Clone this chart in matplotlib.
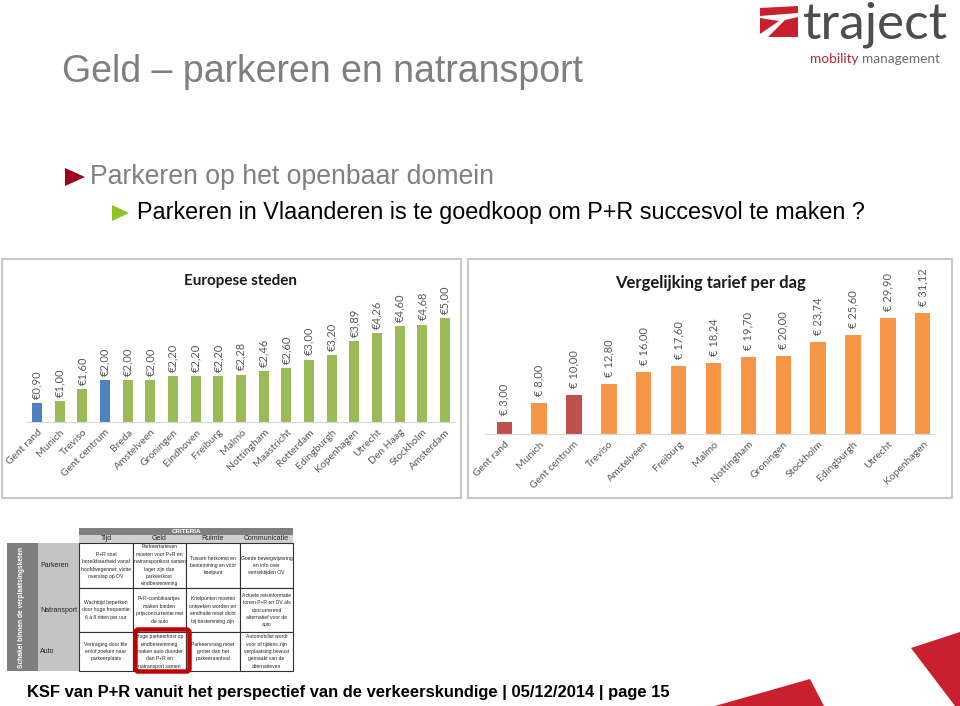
import matplotlib
matplotlib.use("Agg")
import matplotlib.pyplot as plt
from matplotlib.patches import Rectangle, Polygon, FancyBboxPatch

# data: Europese steden (uurtarief)
eu_cities = ["Gent rand", "Munich", "Treviso", "Gent centrum", "Breda", "Amstelveen",
             "Groningen", "Eindhoven", "Freiburg", "Malmö", "Nottingham", "Maastricht",
             "Rotterdam", "Edingburgh", "Kopenhagen", "Utrecht", "Den Haag", "Stockholm",
             "Amsterdam"]
eu_values = [0.90, 1.00, 1.60, 2.00, 2.00, 2.00, 2.20, 2.20, 2.20, 2.28, 2.46, 2.60,
             3.00, 3.20, 3.89, 4.26, 4.60, 4.68, 5.00]

# data: tarief per dag
day_cities = ["Gent rand", "Munich", "Gent centrum", "Treviso", "Amstelveen", "Freiburg",
              "Malmö", "Nottingham", "Groningen", "Stockholm", "Edingburgh", "Utrecht",
              "Kopenhagen"]
day_values = [3.00, 8.00, 10.00, 12.80, 16.00, 17.60, 18.24, 19.70, 20.00, 23.74, 25.60,
              29.90, 31.12]

# table
criteria = ["Tijd", "Geld", "Ruimte", "Communicatie"]
chain = ["Parkeren", "Natransport", "Auto"]
cells = [
    ["P+R snel\nbereikbaarheid vanaf\nhoofdwegennet; vlotte\noverstap op OV",
     "Parkeertarieven\nmoeten voor P+R en\nnatransportkost samen\nlager zijn dan\nparkeerkost\neindbestemming",
     "Tussen herkomst en\nbestemming en vóór\nknelpunt",
     "Goede bewegwijzering\nen info over\nvertrektijden OV"],
    ["Wachttijd beperken\ndoor hoge frequentie:\n6 à 8 ritten per uur",
     "P+R-combikaartjes\nmaken bieden\nprijsconcurrentie met\nde auto",
     "Knelpunten moeten\nontweken worden en\neindhalte moet dicht\nbij bestemming zijn",
     "Actuele reisinformatie\ntonen P+R en OV als\nconcurrerend\nalternatief voor de\nauto"],
    ["Vertraging door file\nen/of zoeken naar\nparkeerplaats",
     "Hoge parkeerkost op\neindbestemming\nmaken auto duurder\ndan P+R en\nnatransport samen",
     "Parkeervraag moet\ngroter dan het\nparkeeraanbod",
     "Automobilist wordt\nvoor of tijdens zijn\nverplaatsing bewust\ngemaakt van de\nalternatieven"],
]

W, H = 960, 706
fig = plt.figure(figsize=(W / 100, H / 100), dpi=100)
plt.rcParams['font.family'] = ['Liberation Sans', 'DejaVu Sans']

bg = fig.add_axes([0, 0, 1, 1])
bg.set_xlim(0, W)
bg.set_ylim(H, 0)
bg.axis('off')


def px_axes(x0, y0, x1, y1):
    return fig.add_axes([x0 / W, 1 - y1 / H, (x1 - x0) / W, (y1 - y0) / H])


# --- header ---
bg.text(62, 72, "Geld – parkeren en natransport", fontsize=27, color='#7f7f7f', va='center')

# logo
red = '#c8202f'
bg.add_patch(Polygon([(760, 8), (798, 6), (798, 13), (760, 16)], color=red, lw=0))
bg.add_patch(Polygon([(760, 18), (779, 21), (760, 34)], color=red, lw=0))
bg.add_patch(Polygon([(768, 37), (785, 20), (798, 17), (798, 37)], color=red, lw=0))
bg.text(803, 25, "traject", fontsize=37, color='#4d4d4d', va='center', family='Lato')
bg.text(810, 59, "mobility", fontsize=9.8, color='#b5263a', va='center', family='Lato')
bg.text(862, 59, "management", fontsize=9.8, color='#6d6d6d', va='center', family='Lato')

# bullets
bg.add_patch(Polygon([(65, 168), (65, 186), (85, 177)], color='#a0001c', lw=0))
bg.text(90, 177, "Parkeren op het openbaar domein", fontsize=19.2, color='#808080', va='center')
bg.add_patch(Polygon([(112, 205), (112, 221), (129, 213)], color='#8fc31f', lw=0))
bg.text(137, 213, "Parkeren in Vlaanderen is te goedkoop om P+R succesvol te maken ?",
        fontsize=16.8, color='#000000', va='center')

# --- chart boxes ---
bg.add_patch(Rectangle((2, 259), 459, 239, fill=False, ec='#c8c8c8', lw=1.5))
bg.add_patch(Rectangle((468, 259), 484, 239, fill=False, ec='#c8c8c8', lw=1.5))

lbl_font = ['Lato', 'DejaVu Sans']

# left chart
ax1 = px_axes(26, 270, 455, 422)
eu_colors = ['#4f81bd' if c.startswith('Gent') else '#9bbb59' for c in eu_cities]
ax1.bar(range(len(eu_values)), eu_values, width=0.44, color=eu_colors)
ax1.set_xlim(-0.49, 18.44)
ax1.set_ylim(0, 7.3)
for i, v in enumerate(eu_values):
    ax1.annotate("€" + f"{v:.2f}".replace('.', ','), (i, v), xytext=(0, 3),
                 textcoords='offset points', rotation=90, ha='center', va='bottom',
                 fontsize=8, color='#595959', family=lbl_font)
ax1.set_xticks(range(len(eu_cities)))
ax1.set_xticklabels(eu_cities, rotation=45, ha='right', va='top', rotation_mode='anchor',
                    fontsize=7.5, color='#595959', family=lbl_font)
ax1.tick_params(axis='x', length=0, pad=4)
ax1.set_yticks([])
for s in ['top', 'right', 'left']:
    ax1.spines[s].set_visible(False)
ax1.spines['bottom'].set_color('#d9d9d9')
ax1.patch.set_alpha(0)
bg.text(240, 281, "Europese steden", fontsize=11, fontweight='bold', ha='center',
        va='center', family=lbl_font, color='#1a1a1a')

# right chart
ax2 = px_axes(485, 270, 935, 434)
day_colors = ['#c0504d' if c.startswith('Gent') else '#f79646' for c in day_cities]
ax2.bar(range(len(day_values)), day_values, width=0.44, color=day_colors)
ax2.set_xlim(-0.55, 12.35)
ax2.set_ylim(0, 42.2)
for i, v in enumerate(day_values):
    ax2.annotate("€ " + f"{v:.2f}".replace('.', ','), (i, v), xytext=(0, 5),
                 textcoords='offset points', rotation=90, ha='center', va='bottom',
                 fontsize=8, color='#595959', family=lbl_font)
ax2.set_xticks(range(len(day_cities)))
ax2.set_xticklabels(day_cities, rotation=45, ha='right', va='top', rotation_mode='anchor',
                    fontsize=7.5, color='#595959', family=lbl_font)
ax2.tick_params(axis='x', length=0, pad=4)
ax2.set_yticks([])
for s in ['top', 'right', 'left']:
    ax2.spines[s].set_visible(False)
ax2.spines['bottom'].set_color('#d9d9d9')
ax2.patch.set_alpha(0)
bg.text(710, 283, "Vergelijking tarief per dag", fontsize=12, fontweight='bold', ha='center',
        va='center', family=lbl_font, color='#1a1a1a')

# --- table ---
col_x = [79, 133, 186, 240, 293]
row_y = [543, 588, 632, 671]
bg.add_patch(Rectangle((79, 528), 214, 7, color='#7f7f7f', lw=0))
bg.text(186, 531.5, "CRITERIA", fontsize=4.5, color='white', fontweight='bold',
        ha='center', va='center')
bg.add_patch(Rectangle((79, 535), 214, 8, color='#d0d0d0', lw=0))
for j, c in enumerate(criteria):
    bg.text((col_x[j] + col_x[j + 1]) / 2, 539, c, fontsize=5, ha='center', va='center',
            color='#222222')
bg.add_patch(Rectangle((7, 543), 31, 128, color='#7f7f7f', lw=0))
bg.text(22, 607, "Schakel binnen de verplaatsingsketen", fontsize=4.8, color='white',
        rotation=90, ha='center', va='center', fontweight='bold')
bg.add_patch(Rectangle((38, 543), 41, 128, color='#c4c4c4', lw=0))
for i, r in enumerate(chain):
    bg.text(40, (row_y[i] + row_y[i + 1]) / 2, r, fontsize=5, va='center', color='#222222')
    for j in range(4):
        bg.add_patch(Rectangle((col_x[j], row_y[i]), col_x[j + 1] - col_x[j],
                               row_y[i + 1] - row_y[i], fc='white', ec='#333333', lw=0.8))
        bg.text((col_x[j] + col_x[j + 1]) / 2, (row_y[i] + row_y[i + 1]) / 2, cells[i][j],
                fontsize=3.6, ha='center', va='center', linespacing=1.6, color='#222222')
bg.add_patch(FancyBboxPatch((135.5, 629.5), 54, 42, boxstyle='round,pad=0,rounding_size=3',
                            fill=False, ec='#c00000', lw=3.2))

# --- footer ---
bg.text(27, 693, "KSF van P+R vanuit het perspectief van de verkeerskundige | 05/12/2014 | page 15",
        fontsize=11.9, fontweight='bold', va='center', color='#000000')
bg.add_patch(Polygon([(715, 706), (810, 679), (824, 706)], color=red, lw=0))
bg.add_patch(Polygon([(911, 648), (960, 632), (960, 706), (955, 706)], color=red, lw=0))

fig.savefig("out.png", dpi=100)
